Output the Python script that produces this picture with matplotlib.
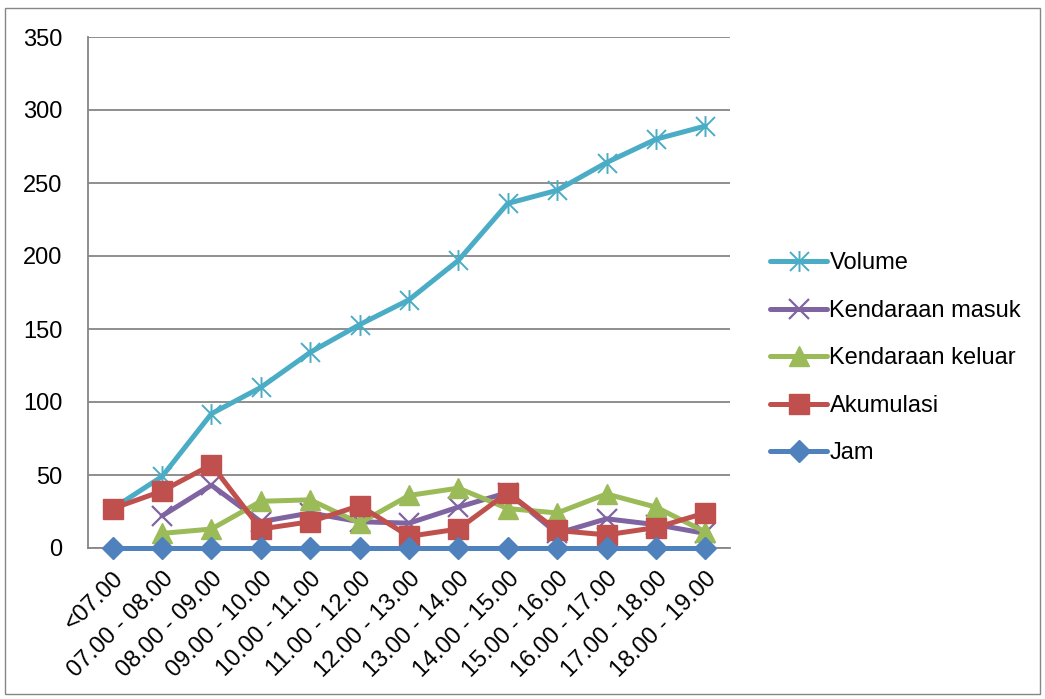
import matplotlib
matplotlib.use("Agg")
import matplotlib.pyplot as plt
from matplotlib.path import Path
from matplotlib.patches import Rectangle

categories = ["<07.00", "07.00 - 08.00", "08.00 - 09.00", "09.00 - 10.00", "10.00 - 11.00",
              "11.00 - 12.00", "12.00 - 13.00", "13.00 - 14.00", "14.00 - 15.00",
              "15.00 - 16.00", "16.00 - 17.00", "17.00 - 18.00", "18.00 - 19.00"]
volume = [27, 49, 92, 110, 134, 153, 170, 197, 236, 245, 264, 280, 289]
masuk = [None, 22, 43, 18, 24, 18, 17, 28, 38, 10, 20, 16, 10]
keluar = [None, 10, 13, 32, 33, 17, 36, 41, 27, 24, 37, 28, 11]
akumulasi = [27, 39, 57, 13, 18, 29, 8, 13, 38, 12, 9, 14, 24]
jam = [0, 0, 0, 0, 0, 0, 0, 0, 0, 0, 0, 0, 0]
yticks = [0, 50, 100, 150, 200, 250, 300, 350]

plt.rcParams['font.family'] = ['Liberation Sans', 'DejaVu Sans']

W, H = 1045, 699
fig = plt.figure(figsize=(W / 100, H / 100), dpi=100)
ax = fig.add_axes([88 / W, 1 - 548 / H, (730 - 88) / W, (548 - 37) / H])

star = Path([(-1, -1), (1, 1), (-1, 1), (1, -1), (0, -1.1), (0, 1.1)],
            [Path.MOVETO, Path.LINETO, Path.MOVETO, Path.LINETO, Path.MOVETO, Path.LINETO])

x = list(range(len(categories)))

def mk(vals):
    xs = [i for i, v in zip(x, vals) if v is not None]
    ys = [v for v in vals if v is not None]
    return xs, ys

lw = 3.6
xs, ys = mk(volume)
ax.plot(xs, ys, color='#4BACC6', lw=lw, marker=star, ms=15, mew=1.4,
        mfc='none', mec='#4BACC6', label='Volume', zorder=3, solid_capstyle='round', clip_on=False)
xs, ys = mk(masuk)
ax.plot(xs, ys, color='#8064A2', lw=lw, marker='x', ms=14, mew=1.6,
        label='Kendaraan masuk', zorder=4, solid_capstyle='round', clip_on=False)
xs, ys = mk(keluar)
ax.plot(xs, ys, color='#9BBB59', lw=lw, marker='^', ms=14,
        label='Kendaraan keluar', zorder=5, solid_capstyle='round', clip_on=False)
xs, ys = mk(akumulasi)
ax.plot(xs, ys, color='#C0504D', lw=lw, marker='s', ms=15,
        label='Akumulasi', zorder=6, solid_capstyle='round', clip_on=False)
xs, ys = mk(jam)
ax.plot(xs, ys, color='#4F81BD', lw=lw, marker='D', ms=11,
        label='Jam', zorder=7, solid_capstyle='round', clip_on=False)

ax.set_xlim(-0.5, len(categories) - 0.5)
ax.set_ylim(0, 350)
ax.set_yticks(yticks)
ax.set_yticklabels([str(v) for v in yticks], fontsize=17)
ax.set_xticks(x)
ax.set_xticklabels(categories, rotation=45, ha='right', rotation_mode='anchor', fontsize=17)
ax.tick_params(axis='both', length=0)
ax.tick_params(axis='y', pad=18.5)
ax.tick_params(axis='x', pad=14)
ax.grid(axis='y', color='#868686', lw=1.3)
ax.set_axisbelow(True)
for s in ['top', 'right']:
    ax.spines[s].set_visible(False)
for s in ['left', 'bottom']:
    ax.spines[s].set_color('#868686')
    ax.spines[s].set_linewidth(1.3)
    ax.spines[s].set_zorder(1)

leg = fig.legend(loc='upper left', bbox_to_anchor=(761 / W, 1 - 243 / H), frameon=False,
                 prop={'size': 17}, handlelength=2.4, handletextpad=0.1,
                 labelspacing=1.08, borderaxespad=0)

fig.patches.append(Rectangle((5 / W, 1 - 694 / H), 1035 / W, 686 / H, transform=fig.transFigure,
                             fill=False, edgecolor='#868686', lw=1.0))

fig.savefig('out.png', dpi=100)
